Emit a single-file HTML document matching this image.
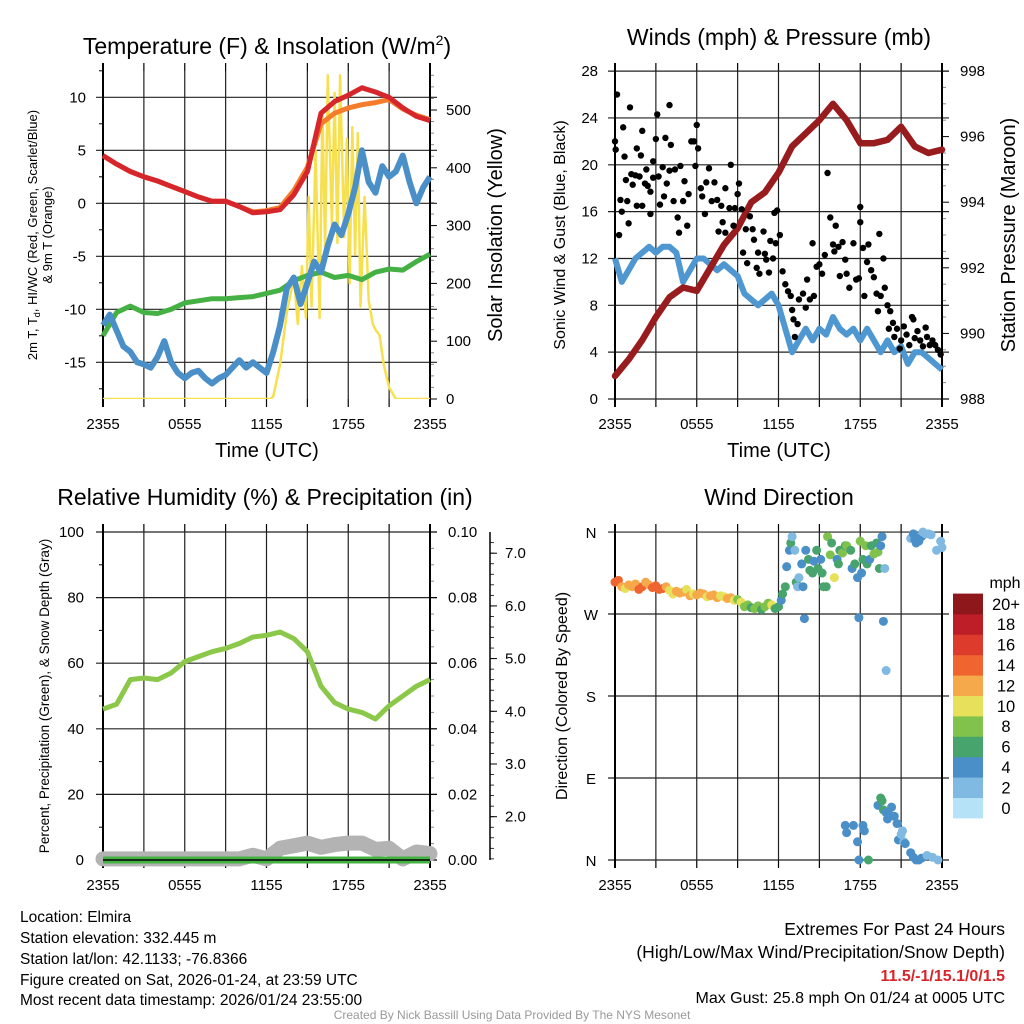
<!DOCTYPE html>
<html><head><meta charset="utf-8">
<style>
html,body{margin:0;padding:0;background:#fff;}
svg{display:block;font-family:"Liberation Sans",Arial,sans-serif;}
</style></head>
<body>
<svg id="fig" width="1024" height="1024" viewBox="0 0 1024 1024" xmlns="http://www.w3.org/2000/svg">
<rect width="1024" height="1024" fill="#fff"/>
<g id="g1"></g>
<g id="g2"></g>
<g id="g3"></g>
<g id="g4"></g>
<g id="info" font-size="15.5" fill="#000">
<text x="20" y="922">Location: Elmira</text>
<text x="20" y="943">Station elevation: 332.445 m</text>
<text x="20" y="964">Station lat/lon: 42.1133; -76.8366</text>
<text x="20" y="985">Figure created on Sat, 2026-01-24, at 23:59 UTC</text>
<text x="20" y="1005">Most recent data timestamp: 2026/01/24 23:55:00</text>
<g font-size="17.5">
<text x="1005" y="935" text-anchor="end">Extremes For Past 24 Hours</text>
<text x="1005" y="958" text-anchor="end">(High/Low/Max Wind/Precipitation/Snow Depth)</text>
<text x="1005" y="981" text-anchor="end" fill="#d7262b" font-weight="bold" font-size="16">11.5/-1/15.1/0/1.5</text>
<text x="1005" y="1003" text-anchor="end" font-size="16">Max Gust: 25.8 mph On 01/24 at 0005 UTC</text>
</g>
<text x="512" y="1019" text-anchor="middle" font-size="12" fill="#999">Created By Nick Bassill Using Data Provided By The NYS Mesonet</text>
</g>
</svg>
<script>
// ---------- data ----------
const timeLabels = ["2355","0555","1155","1755","2355"];
const hours = [0,1,2,3,4,5,6,7,8,9,10,11,12,13,14,15,16,17,18,19,20,21,22,23,24];
const tempRed = [4.5,3.7,3.0,2.5,2.1,1.6,1.1,0.6,0.2,0.2,-0.3,-0.9,-0.8,-0.6,0.8,3.0,8.5,9.6,10.2,10.9,10.5,10.0,9.0,8.2,7.8];
const temp9m = [4.5,3.7,3.0,2.5,2.1,1.6,1.1,0.6,0.2,0.2,-0.3,-0.8,-0.7,-0.4,1.2,3.4,7.5,8.5,9.0,9.3,9.5,9.8,8.9,8.3,7.9];
const dewGreen = [-12.5,-10.3,-9.7,-10.3,-10.4,-10.0,-9.4,-9.2,-9.0,-9.0,-8.9,-8.8,-8.5,-8.2,-7.3,-6.8,-6.5,-7.0,-6.8,-7.2,-6.5,-6.2,-6.3,-5.5,-4.8];
const halfHours = [0,0.5,1,1.5,2,2.5,3,3.5,4,4.5,5,5.5,6,6.5,7,7.5,8,8.5,9,9.5,10,10.5,11,11.5,12,12.5,13,13.5,14,14.5,15,15.5,16,16.5,17,17.5,18,18.5,19,19.5,20,20.5,21,21.5,22,22.5,23,23.5,24];
const windChill = [-11.5,-10.5,-12,-13.5,-14,-15,-15.2,-15.5,-14.5,-13,-15,-16,-16.5,-16,-15.8,-16.5,-17,-16.5,-16.2,-15.5,-14.8,-15.5,-15,-15.5,-16,-14,-11.5,-8,-7,-9.5,-7.5,-5.5,-6.5,-4,-2,-3,-1,1.5,5,2,1,3.5,2.5,3,4.5,2,0,1.5,2.5];
const solarT = [0,12.3,12.5,13,13.5,14,14.3,14.6,14.9,15.1,15.3,15.6,15.9,16.1,16.3,16.5,16.8,17,17.2,17.4,17.7,17.9,18.1,18.3,18.5,18.7,18.9,19.2,19.5,19.8,20,20.3,20.6,21,21.5,24];
const solarV = [0,0,5,60,150,210,130,230,140,350,160,430,140,500,260,560,300,530,270,560,280,450,200,470,250,460,160,350,170,130,120,110,60,20,0,0];
const pressure = [988.7,989.2,989.8,990.5,991.1,991.4,991.3,992.0,992.7,993.2,994.0,994.3,994.9,995.7,996.1,996.5,997.0,996.5,995.8,995.8,995.9,996.3,995.7,995.5,995.6];
const sonicWind = [12,10,11,12,12.5,13,12.5,13,13,12.5,10,11,12,12,11.5,11,11.5,11,10.5,9,8.5,8,8.5,9,8,6,4,5,6,5,6,5.5,7,6,5.5,6,5,6,5,4,5,4,4.5,3,4,4,3.5,3,2.5];
const gustT = [0,0.05,0.15,0.3,0.4,0.5,0.6,0.7,0.8,0.9,1.0,1.1,1.2,1.3,1.5,1.6,1.6,1.8,1.9,2.0,2.0,2.2,2.3,2.4,2.6,2.6,2.8,2.8,3.0,3.1,3.2,3.3,3.5,3.6,3.7,3.8,4.0,4.0,4.1,4.3,4.4,4.6,4.7,4.8,5.0,5.1,5.3,5.4,5.6,5.8,5.9,6.0,6.1,6.3,6.4,6.6,6.7,6.9,7.1,7.3,7.5,7.6,7.8,7.9,8.1,8.1,8.4,8.5,8.7,8.8,9.0,9.1,9.3,9.4,9.6,9.7,9.9,10.1,10.2,10.4,10.5,10.6,10.9,11.0,11.1,11.3,11.4,11.6,11.7,11.9,11.8,12.1,12.3,12.5,12.7,12.9,13.0,13.1,13.2,13.4,13.5,13.8,14.0,14.1,14.3,14.5,14.6,14.8,15.0,15.2,15.4,15.6,15.8,16.0,16.1,16.2,16.4,16.5,16.7,16.9,17.0,17.2,17.5,17.7,17.9,18.0,18.0,18.2,18.3,18.5,18.6,18.8,19.0,19.2,19.3,19.4,19.5,19.7,19.8,20.0,20.1,20.2,20.4,20.5,20.7,20.9,21.0,21.2,21.4,21.6,21.8,21.9,22.0,22.2,22.4,22.6,22.8,22.9,23.1,23.3,23.5,23.7,23.9];
const gustV = [22,21.3,26,14,17,16,23.2,20.7,18.7,16.9,15,24.9,19.2,18.3,19.1,21.4,16.5,19,20.8,16.5,22.9,18.4,19.6,18.2,17.7,15.8,18.9,20.3,22.2,24.3,19.0,16.6,19.8,17.3,22.3,18.4,19.5,25.1,21.7,16.9,19.6,15.5,14.2,19.9,16.9,18.6,14.8,17.5,22.0,22.0,19.9,23.4,21.4,18.0,17.3,15.8,18.5,19.7,16.9,18.5,17.0,14.3,16.5,15.1,14.2,18.0,16.3,20.0,14.8,16.3,17.5,18.4,16.2,12.5,14.5,11.6,15.6,14.5,13.6,11.2,12.5,10.7,14.3,12.4,11.9,10.8,13.5,12.0,15.9,16.1,13.3,14.0,10.9,9.8,9.2,8.8,7.6,6.8,5.3,6.4,8.5,9.0,7.8,10.2,8.5,13.3,8.8,11.3,11.5,10.7,12.3,19.3,15.5,13.2,12.6,14.8,13.0,10.5,13.4,11.9,10.7,9.5,13.3,10.2,10.3,15.1,16.4,12.9,8.8,11.7,13.2,11.0,10.4,9.0,7.5,14.1,8.8,12.0,9.5,8.0,6.0,7.5,6.5,5.3,6.0,4.3,5.0,6.2,5.5,4.6,7.0,6.8,5.2,5.8,5.0,4.5,6.1,5.3,4.6,5.0,4.6,4.2,3.8];
const rhHumidity = [46,47.5,55,55.5,55,57,60.5,62,63.5,64.5,66,68,68.5,69.5,67.5,63.5,53,48,46,45,43,47,50,53,55];
const precip = [0,0,0,0,0,0,0,0,0,0,0,0,0,0,0,0,0,0,0,0,0,0,0,0,0];
const snowDepth = [1.2,1.2,1.2,1.2,1.2,1.2,1.2,1.2,1.2,1.2,1.2,1.27,1.2,1.4,1.45,1.5,1.42,1.47,1.5,1.5,1.38,1.4,1.2,1.33,1.3];
const dirT = [0,0.25,0.5,0.75,1,1.25,1.5,1.75,2,2.25,2.5,2.75,3,3.25,3.5,3.75,4,4.25,4.5,4.75,5,5.25,5.5,5.75,6,6.25,6.5,6.75,7,7.25,7.5,7.75,8,8.25,8.5,8.75,9,9.25,9.5,9.75,10,10.25,10.5,10.75,11,11.25,11.5,11.75,12,
 12.2,12.3,12.5,12.6,12.8,12.9,13.0,13.2,13.3,13.4,13.5,13.7,13.8,13.9,14.0,14.2,14.3,14.5,14.6,14.8,14.9,15.1,15.2,15.3,15.5,15.6,15.8,15.9,16.1,16.3,16.4,16.5,16.7,16.9,17.0,17.3,17.4,17.6,17.8,17.9,18.0,18.1,18.2,18.4,18.5,18.7,18.8,19.0,19.2,19.3,19.4,19.5,19.6,19.7,19.8,19.9,
 16.9,17.0,17.5,17.8,17.9,18.2,18.3,18.6,19.3,19.5,19.6,19.7,19.9,20.0,20.1,20.3,20.5,20.7,20.8,21.0,21.1,21.2,21.3,21.7,21.9,22.1,22.3,22.5,22.9,23.3,23.7,
 21.7,21.9,22.0,22.1,22.3,22.5,22.6,22.8,23.0,23.2,23.6,23.9,24.0];
const dirDeg = [305,307,300,298,302,300,303,297,300,305,302,299,301,297,298,300,296,292,295,293,294,297,290,292,291,293,292,289,290,291,288,290,289,287,288,285,286,283,278,280,277,276,279,275,278,282,280,276,278,
 285,292,300,322,340,348,355,340,305,300,310,325,300,265,340,330,318,315,328,340,320,330,315,300,300,355,335,348,310,330,325,340,337,345,345,340,320,325,310,266,350,315,330,345,325,330,345,336,348,338,320,345,355,262,320,208,
 38,30,38,20,0,38,32,0,60,68,65,55,52,45,50,58,48,40,22,28,32,20,18,8,3,0,0,2,5,3,0,
 353,358,352,348,350,355,360,358,358,357,340,350,343];
const dirSpeed = [14,15,13,10,12,12,13,14,15,13,12,15,14,14,15,12,11,10,12,13,12,11,12,11,12,13,12,11,13,12,12,11,10,12,12,11,9,10,8,9,7,8,8,7,9,8,10,7,6,
 5,6,6,5,4,6,3,2,6,3,3,5,5,4,4,6,6,6,5,6,6,4,6,6,6,8,8,6,10,5,6,6,8,6,8,6,4,6,4,4,8,4,6,8,6,4,6,8,6,8,6,4,4,4,2,2,
 4,4,4,4,4,4,4,6,4,6,6,6,4,4,4,4,4,4,4,2,2,2,4,4,4,4,4,4,2,2,2,
 2,4,4,4,4,4,2,2,2,2,2,2,2];
const speedBins = ["0","2","4","6","8","10","12","14","16","18","20+"];
const binColors = ["#b5e2f7","#80bae3","#4a8fc7","#48a46d","#80c24b","#e6e05a","#f6a94a","#ef642f","#dd3b2c","#bd1e27","#8e171b"];

// ---------- helpers ----------
const NS="http://www.w3.org/2000/svg";
function mk(parent,tag,attrs,text){const e=document.createElementNS(NS,tag);for(const k in attrs)e.setAttribute(k,attrs[k]);if(text!==undefined)e.textContent=text;parent.appendChild(e);return e;}
function line(p,x1,y1,x2,y2,st,w){return mk(p,'line',{x1,y1,x2,y2,stroke:st||'#000','stroke-width':w||1});}
function pts(xs,ys,fx,fy){return xs.map((x,i)=>fx(x).toFixed(1)+','+fy(ys[i]).toFixed(1)).join(' ');}

function frame(g,x0,x1,y0,y1,yMajorsPx,yMinorsPx,rightTicksPx,rightMinorPx,name){
  const sx=h=>x0+h/24*(x1-x0);
  for(let h=0;h<=24;h+=3){const x=sx(h);
    const gl=line(g,x,y0,x,y1,'#222',1.2);
    
    
    line(g,x,y0-8,x,y0,'#000',1.2);line(g,x,y1,x,y1+8,'#000',1.2);}
  yMajorsPx.forEach(y=>{const gl=line(g,x0-7,y,x1+7,y,'#222',1.2);
    
    });
  yMinorsPx.forEach(y=>line(g,x0-4,y,x0,y,'#000',1));
  rightTicksPx.forEach(y=>line(g,x1,y,x1+7,y,'#000',1));
  rightMinorPx.forEach(y=>line(g,x1,y,x1+4,y,'#888',1));
  line(g,x0,y0-8,x0,y1+8,'#000',2);line(g,x1,y0-8,x1,y1+8,'#000',2);
  timeLabels.forEach((t,i)=>{const tl=mk(g,'text',{x:sx(i*6),y:y1+30,'text-anchor':'middle','font-size':15},t);
    
    });
  return sx;
}

// ---------- panel 1 ----------
(function(){
const g=document.getElementById('g1');
const x0=103,x1=430,y0=71,y1=399;
const yL=v=>203.3-v*10.6, yR=v=>399-v*0.578;
const majL=[10,5,0,-5,-10,-15], minL=[12.5,7.5,2.5,-2.5,-7.5,-12.5,-17.5];
const sx=frame(g,x0,x1,y0,y1,majL.map(yL),minL.map(yL),[0,100,200,300,400,500].map(yR),[20,40,60,80,120,140,160,180,220,240,260,280,320,340,360,380,420,440,460,480,520,540,560].map(yR));
majL.forEach(v=>{const t=mk(g,'text',{x:86,y:yL(v)+5,'text-anchor':'end','font-size':15},String(v));});
[0,100,200,300,400,500].forEach(v=>{const t=mk(g,'text',{x:446,y:yR(v)+5,'font-size':15},String(v));});
const ti=mk(g,'text',{x:267,y:54,'text-anchor':'middle','font-size':23},'Temperature (F) & Insolation (W/m');

mk(ti,'tspan',{dy:-9,'font-size':14},'2');mk(ti,'tspan',{dy:9},')');
const rt=mk(g,'text',{x:0,y:0,transform:'translate(502,235) rotate(-90)','text-anchor':'middle','font-size':20},'Solar Insolation (Yellow)');

const lt=mk(g,'text',{x:0,y:0,transform:'translate(37,235) rotate(-90)','text-anchor':'middle','font-size':13},'2m T, T');

mk(lt,'tspan',{dy:3,'font-size':9},'d');mk(lt,'tspan',{dy:-3},', HI/WC (Red, Green, Scarlet/Blue)');
const lt2=mk(g,'text',{x:0,y:0,transform:'translate(52,235) rotate(-90)','text-anchor':'middle','font-size':13},'& 9m T (Orange)');

const xt=mk(g,'text',{x:267,y:457,'text-anchor':'middle','font-size':20},'Time (UTC)');

const clip=mk(g,'clipPath',{id:'c1'});mk(clip,'rect',{x:x0-4,y:y0,width:x1-x0+8,height:y1-y0});
const d=mk(g,'g',{'clip-path':'url(#c1)'});
let s=mk(d,'polyline',{points:pts(solarT,solarV,sx,yR),fill:'none',stroke:'#f7e04f','stroke-width':2.5,'stroke-linejoin':'round'});

s=mk(d,'polyline',{points:pts(hours,dewGreen,sx,yL),fill:'none',stroke:'#45b044','stroke-width':5,'stroke-linejoin':'round'});

s=mk(d,'polyline',{points:pts(halfHours,windChill,sx,yL),fill:'none',stroke:'#4a8fc7','stroke-width':6,'stroke-linejoin':'round'});

s=mk(d,'polyline',{points:pts(hours,temp9m,sx,yL),fill:'none',stroke:'#f47c2a','stroke-width':5,'stroke-linejoin':'round'});

s=mk(d,'polyline',{points:pts(hours,tempRed,sx,yL),fill:'none',stroke:'#d7262b','stroke-width':5,'stroke-linejoin':'round'});

})();

// ---------- panel 2 ----------
(function(){
const g=document.getElementById('g2');
const x0=615,x1=942,y0=71,y1=399;
const yL=v=>399-v*11.71, yR=p=>399-(p-988)*32.8;
const majL=[0,4,8,12,16,20,24,28];
const sx=frame(g,x0,x1,y0,y1,majL.map(yL),[],[988,990,992,994,996,998].map(yR),[988.5,989,989.5,990.5,991,991.5,992.5,993,993.5,994.5,995,995.5,996.5,997,997.5].map(yR));
majL.forEach(v=>{const t=mk(g,'text',{x:598,y:yL(v)+5,'text-anchor':'end','font-size':15},String(v));});
[988,990,992,994,996,998].forEach(v=>{const t=mk(g,'text',{x:960,y:yR(v)+5,'font-size':15},String(v));});
const ti=mk(g,'text',{x:779,y:45,'text-anchor':'middle','font-size':23},'Winds (mph) & Pressure (mb)');

const lt=mk(g,'text',{x:0,y:0,transform:'translate(565,235) rotate(-90)','text-anchor':'middle','font-size':16},'Sonic Wind & Gust (Blue, Black)');

const rt=mk(g,'text',{x:0,y:0,transform:'translate(1015,235) rotate(-90)','text-anchor':'middle','font-size':20},'Station Pressure (Maroon)');

const xt=mk(g,'text',{x:779,y:457,'text-anchor':'middle','font-size':20},'Time (UTC)');

let s=mk(g,'polyline',{points:pts(halfHours,sonicWind,sx,yL),fill:'none',stroke:'#4f97d1','stroke-width':6,'stroke-linejoin':'round'});

s=mk(g,'polyline',{points:pts(hours,pressure,sx,yR),fill:'none',stroke:'#981b1e','stroke-width':6.5,'stroke-linejoin':'round','stroke-linecap':'round'});

gustT.forEach((t,i)=>{const c=mk(g,'circle',{cx:sx(t),cy:yL(gustV[i]),r:3.2,fill:'#000'});
  
  });
})();

// ---------- panel 3 ----------
(function(){
const g=document.getElementById('g3');
const x0=103,x1=430,y0=532,y1=860;
const yL=v=>860-v*3.28, yP=v=>860-v*3280, yS=v=>816.7-(v-2)*52.7;
const majL=[0,20,40,60,80,100];
const minor=[];for(let v=5;v<100;v+=5)if(v%20)minor.push(yL(v));
const sx=frame(g,x0,x1,y0,y1,majL.map(yL),[10,30,50,70,90].map(yL),[0,0.02,0.04,0.06,0.08,0.1].map(yP),minor);
majL.forEach(v=>{const t=mk(g,'text',{x:84,y:yL(v)+5,'text-anchor':'end','font-size':15},String(v));});
["0.00","0.02","0.04","0.06","0.08","0.10"].forEach((v,i)=>{const t=mk(g,'text',{x:448,y:yP(i*0.02)+5,'font-size':15},v);});
const ax=line(g,490,y0,490,y1,'#000',1.5);
[2,3,4,5,6,7].forEach(v=>{line(g,490,yS(v),497,yS(v));const t=mk(g,'text',{x:505,y:yS(v)+5,'font-size':15},v.toFixed(1));});
for(let v=1.2;v<7.4;v+=0.2)line(g,490,yS(v),494,yS(v),'#000',0.8);
const ti=mk(g,'text',{x:265,y:505,'text-anchor':'middle','font-size':23},'Relative Humidity (%) & Precipitation (in)');

const lt=mk(g,'text',{x:0,y:0,transform:'translate(49,696) rotate(-90)','text-anchor':'middle','font-size':13.5},'Percent, Precipitation (Green), & Snow Depth (Gray)');

let s=mk(g,'polyline',{points:pts(hours,snowDepth,sx,yS),fill:'none',stroke:'#b3b3b3','stroke-width':15,'stroke-linejoin':'round','stroke-linecap':'round'});

s=mk(g,'polyline',{points:pts(hours,precip,sx,yP),fill:'none',stroke:'#45b044','stroke-width':7});

s=mk(g,'polyline',{points:pts(hours,rhHumidity,sx,yL),fill:'none',stroke:'#8bc84a','stroke-width':5,'stroke-linejoin':'round'});

line(g,x0,y1,x1,y1,'#000',1.5);
})();

// ---------- panel 4 ----------
(function(){
const g=document.getElementById('g4');
const x0=615,x1=942,y0=532,y1=860;
const yD=d=>860-d*0.911;
const sx=frame(g,x0,x1,y0,y1,[0,90,180,270,360].map(yD),[],[],[]);
[[360,'N'],[270,'W'],[180,'S'],[90,'E'],[0,'N']].forEach(([d,l])=>{const t=mk(g,'text',{x:591,y:yD(d)+6,'text-anchor':'middle','font-size':15},l);});
const ti=mk(g,'text',{x:779,y:505,'text-anchor':'middle','font-size':23},'Wind Direction');

const lt=mk(g,'text',{x:0,y:0,transform:'translate(567,696) rotate(-90)','text-anchor':'middle','font-size':16},'Direction (Colored By Speed)');

dirT.forEach((t,i)=>{if(i>=dirDeg.length)return;const b=Math.min(10,Math.floor(dirSpeed[i]/2));
  const c=mk(g,'circle',{cx:sx(t),cy:yD(dirDeg[i]),r:4.5,fill:binColors[b]});
  
  });
const mt=mk(g,'text',{x:1005,y:588,'text-anchor':'middle','font-size':16},'mph');

const bh=20.4;
speedBins.forEach((lab,i)=>{const y=818-(i+1)*bh;
  const r=mk(g,'rect',{x:953,y:y,width:30,height:bh+0.4,fill:binColors[i]});
  
  
  const t=mk(g,'text',{x:1006,y:y+bh/2+6,'text-anchor':'middle','font-size':16.5},lab);
  
  });
})();
</script>
</body></html>
